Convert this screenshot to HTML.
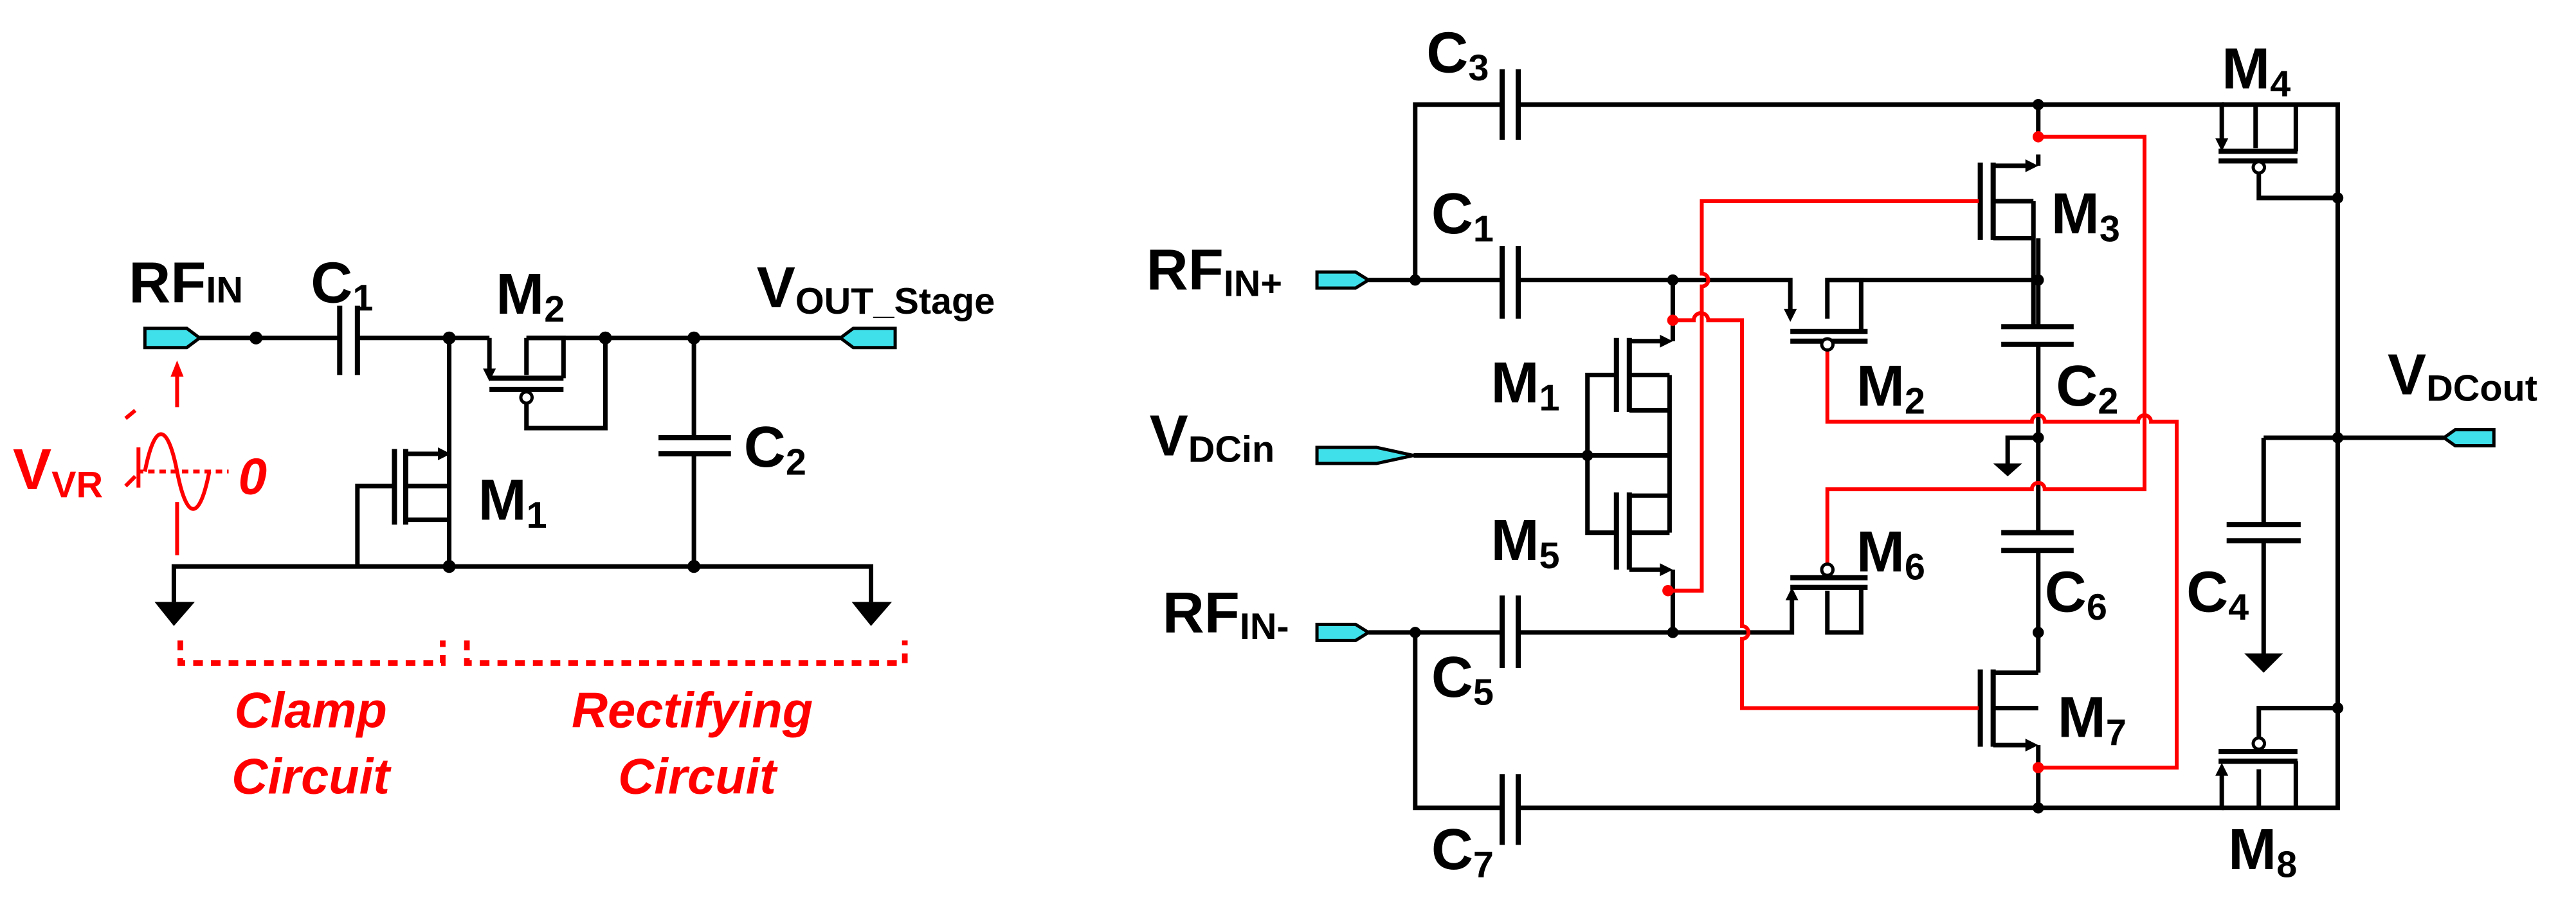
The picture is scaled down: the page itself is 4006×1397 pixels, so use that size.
<!DOCTYPE html>
<html><head><meta charset="utf-8"><style>
html,body{margin:0;padding:0;background:#fff;}
svg{display:block;}
text{font-family:"Liberation Sans",Arial,sans-serif;font-weight:bold;}
</style></head><body>
<svg width="4006" height="1397" viewBox="0 0 1600 558" preserveAspectRatio="none" xmlns="http://www.w3.org/2000/svg">
<g fill="none" stroke="#000" stroke-width="2.8" stroke-linejoin="miter">
<!-- ===== LEFT CIRCUIT ===== -->
<path d="M124,210 H211 M222,210 H304 M327,210 H522"/>
<path d="M211,190 V233 M222,190 V233" stroke-width="3.2"/>
<path d="M304,210 V232"/>
<path d="M304,235 H350 M304,242 H350" stroke-width="3.2"/>
<path d="M327,210 V233 M327,210 H350 V235"/>
<path d="M327,251 V266 H376 V210"/>
<path d="M431,210 V272 M431,282 V352"/>
<path d="M409,272 H454 M409,282 H454" stroke-width="3.2"/>
<path d="M279,210 V352"/>
<path d="M252,282 H272 M252,302 H279 M252,323 H279"/>
<path d="M252,279 V326 M245,279 V326" stroke-width="3.2"/>
<path d="M222,352 V302 H245"/>
<path d="M108,374 V352 H541 V374"/>
</g>
<g fill="#000">
<circle cx="159" cy="210" r="4"/><circle cx="279" cy="210" r="4"/><circle cx="376" cy="210" r="4"/><circle cx="431" cy="210" r="4"/>
<circle cx="279" cy="352" r="4"/><circle cx="431" cy="352" r="4"/>
<polygon points="300,229 308,229 304,237"/>
<polygon points="272,278 280,282 272,286"/>
<polygon points="96,374 121,374 108,389"/><polygon points="529,374 554,374 541,389"/>
</g>
<circle cx="327" cy="247" r="3.5" fill="#fff" stroke="#000" stroke-width="2"/>
<polygon points="90,204 116,204 124,210 116,216 90,216" fill="#40e0ea" stroke="#000" stroke-width="2"/>
<polygon points="556,204 530,204 522,210 530,216 556,216" fill="#40e0ea" stroke="#000" stroke-width="2"/>
<g stroke="#f00" fill="none" stroke-width="2.4">
<path d="M110,253 V232"/>
<path d="M110,312 V345" />
<path d="M85,293 H142" stroke-dasharray="4,3"/>
<path d="M86,278 V303"/>
<path d="M78,260 L84,255 M78,302 L84,296"/>
<path d="M90,293 C96,262 104,262 110,293 C116,324 124,324 130,293"/>
<path d="M112,398 V412 H275 V398 M290,398 V412 H562 V398" stroke-width="3.5" stroke-dasharray="6,5"/>
</g>
<polygon points="106,234 114,234 110,224" fill="#f00"/>
<text x="8" y="304" font-size="36" fill="#f00">V<tspan font-size="23" dy="5">VR</tspan></text>
<text x="148" y="307" font-size="32" fill="#f00" font-style="italic">0</text>
<g fill="#f00" font-size="31" font-style="italic" text-anchor="middle">
<text x="193" y="452">Clamp</text><text x="193" y="493">Circuit</text>
<text x="430" y="452">Rectifying</text><text x="433" y="493">Circuit</text>
</g>
<g font-size="36" fill="#000">
<text x="80" y="188">RF<tspan font-size="23" dy="0">IN</tspan></text>
<text x="193" y="188">C<tspan font-size="23" dy="5">1</tspan></text>
<text x="308" y="195">M<tspan font-size="23" dy="5">2</tspan></text>
<text x="470" y="191">V<tspan font-size="23" dy="4">OUT_Stage</tspan></text>
<text x="462" y="290">C<tspan font-size="23" dy="5">2</tspan></text>
<text x="297" y="323">M<tspan font-size="23" dy="5">1</tspan></text>
</g>

<!-- ===== RIGHT CIRCUIT ===== -->
<g fill="none" stroke="#000" stroke-width="2.8">
<path d="M850,174 H933 M943,174 H1112 V195"/>
<path d="M879,174 V65 H933 M943,65 H1380 V88"/>
<path d="M933,43 V87 M943,43 V87 M933,153 V198 M943,153 V198" stroke-width="3.2"/>
<path d="M850,393 H933 M943,393 H1113 V370"/>
<path d="M879,393 V502 H933 M943,502 H1380 V480"/>
<path d="M933,370 V415 M943,370 V415 M933,481 V525 M943,481 V525" stroke-width="3.2"/>
<path d="M1039,174 V201 M1039,367 V393"/>
<path d="M1012,212 H1032 M1012,233 H1037 M1012,255 H1037 M1037,233 V331 M1012,308 H1037 M1012,331 H1037 M1012,354 H1032"/>
<path d="M1039,212 V201 M1039,354 V367"/>
<path d="M1012,210 V256 M1004,210 V256 M1012,306 V354 M1004,306 V354" stroke-width="3.2"/>
<path d="M1004,233 H986 V331 H1004"/>
<path d="M878,283 H1037"/>
<path d="M1112,206 H1160 M1112,212 H1160" stroke-width="3.2"/>
<path d="M1135,198 V174 H1156 V206"/>
<path d="M1112,359 H1160 M1112,365 H1160" stroke-width="3.2"/>
<path d="M1135,367 V393 H1156 V365"/>
<path d="M1266,65 V85 M1266,96 V103"/>
<path d="M1238,103 H1259 M1238,125 H1263 M1238,148 H1263 M1263,125 V203 M1266,148 V203"/>
<path d="M1238,101 V149 M1230,101 V149" stroke-width="3.2"/>
<path d="M1135,174 H1266"/>
<path d="M1243,203 H1288 M1243,214 H1288 M1243,331 H1288 M1243,342 H1288" stroke-width="3.2"/>
<path d="M1266,214 V331 M1266,342 V418"/>
<path d="M1266,272 H1247 V288"/>
<path d="M1238,418 H1266 M1238,440 H1266 M1238,463 H1259 M1266,463 V502"/>
<path d="M1238,416 V464 M1230,416 V464" stroke-width="3.2"/>
<path d="M1380,65 H1452 V502 H1380 M1401,65 V92 M1426,65 V94"/>
<path d="M1378,94 H1427 M1378,100 H1427" stroke-width="3.2"/>
<path d="M1403,108 V123 H1452"/>
<path d="M1378,473 H1427 M1378,467 H1427" stroke-width="3.2"/>
<path d="M1403,458 V440 H1452 M1403,478 V502 M1426,473 V502"/>
<path d="M1452,272 H1518 M1406,272 H1452 M1406,272 V326 M1406,336 V406"/>
<path d="M1383,326 H1429 M1383,336 H1429" stroke-width="3.2"/>
</g>
<g fill="none" stroke="#f00" stroke-width="2.4">
<path d="M1039,199 H1052 A4,4 0 0 1 1061,199 H1082 V389 A4,4 0 0 1 1082,397 V440 H1229"/>
<path d="M1036,367 H1057 V178 A4,4 0 0 0 1057,170 V125 H1229"/>
<path d="M1266,85 H1332 V304 H1270 A4,4 0 0 0 1262,304 H1135 V350"/>
<path d="M1135,218 V262 H1262 A4,4 0 0 1 1270,262 H1328 A4,4 0 0 1 1336,262 H1352 V477 H1266"/>
</g>
<g fill="#000">
<circle cx="879" cy="174" r="3.5"/><circle cx="1039" cy="174" r="3.5"/><circle cx="986" cy="283" r="3.5"/>
<circle cx="879" cy="393" r="3.5"/><circle cx="1039" cy="393" r="3.5"/>
<circle cx="1266" cy="65" r="3.5"/><circle cx="1266" cy="174" r="3.5"/><circle cx="1266" cy="272" r="3.5"/>
<circle cx="1266" cy="393" r="3.5"/><circle cx="1266" cy="502" r="3.5"/>
<circle cx="1452" cy="123" r="3.5"/><circle cx="1452" cy="272" r="3.5"/><circle cx="1452" cy="440" r="3.5"/>
<polygon points="1108,192 1116,192 1112,200"/>
<polygon points="1109,373 1117,373 1113,365"/>
<polygon points="1376,86 1384,86 1380,94"/>
<polygon points="1376,482 1384,482 1380,474"/>
<polygon points="1031,208 1039,212 1031,216"/>
<polygon points="1031,350 1039,354 1031,358"/>
<polygon points="1258,99 1266,103 1258,107"/>
<polygon points="1258,459 1266,463 1258,467"/>
<polygon points="1238,288 1256,288 1247,296"/>
<polygon points="1394,406 1418,406 1406,418"/>
</g>
<g fill="#f00">
<circle cx="1039" cy="199" r="3.5"/><circle cx="1036" cy="367" r="3.5"/>
<circle cx="1266" cy="85" r="3.5"/><circle cx="1266" cy="477" r="3.5"/>
</g>
<g fill="#fff" stroke="#000" stroke-width="2">
<circle cx="1135" cy="214" r="3.5"/><circle cx="1135" cy="354" r="3.5"/>
<circle cx="1403" cy="104" r="3.5"/><circle cx="1403" cy="462" r="3.5"/>
</g>
<g fill="#40e0ea" stroke="#000" stroke-width="2">
<polygon points="818,169 842,169 850,174 842,179 818,179"/>
<polygon points="818,388 842,388 850,393 842,398 818,398"/>
<polygon points="818,278 855,278 878,283 855,288 818,288"/>
<polygon points="1549,267 1525,267 1518,272 1525,277 1549,277"/>
</g>
<g font-size="36" fill="#000">
<text x="886" y="45">C<tspan font-size="23" dy="5">3</tspan></text>
<text x="889" y="145">C<tspan font-size="23" dy="5">1</tspan></text>
<text x="712" y="180">RF<tspan font-size="23" dy="4">IN+</tspan></text>
<text x="714" y="283">V<tspan font-size="23" dy="4">DCin</tspan></text>
<text x="926" y="250">M<tspan font-size="23" dy="5">1</tspan></text>
<text x="926" y="348">M<tspan font-size="23" dy="5">5</tspan></text>
<text x="722" y="393">RF<tspan font-size="23" dy="4">IN-</tspan></text>
<text x="889" y="433">C<tspan font-size="23" dy="5">5</tspan></text>
<text x="889" y="540">C<tspan font-size="23" dy="5">7</tspan></text>
<text x="1274" y="145">M<tspan font-size="23" dy="5">3</tspan></text>
<text x="1153" y="252">M<tspan font-size="23" dy="5">2</tspan></text>
<text x="1277" y="252">C<tspan font-size="23" dy="5">2</tspan></text>
<text x="1153" y="355">M<tspan font-size="23" dy="5">6</tspan></text>
<text x="1270" y="380">C<tspan font-size="23" dy="5">6</tspan></text>
<text x="1278" y="458">M<tspan font-size="23" dy="5">7</tspan></text>
<text x="1380" y="55">M<tspan font-size="23" dy="5">4</tspan></text>
<text x="1483" y="245">V<tspan font-size="23" dy="4">DCout</tspan></text>
<text x="1358" y="380">C<tspan font-size="23" dy="5">4</tspan></text>
<text x="1384" y="540">M<tspan font-size="23" dy="5">8</tspan></text>
</g>
</svg>
</body></html>
